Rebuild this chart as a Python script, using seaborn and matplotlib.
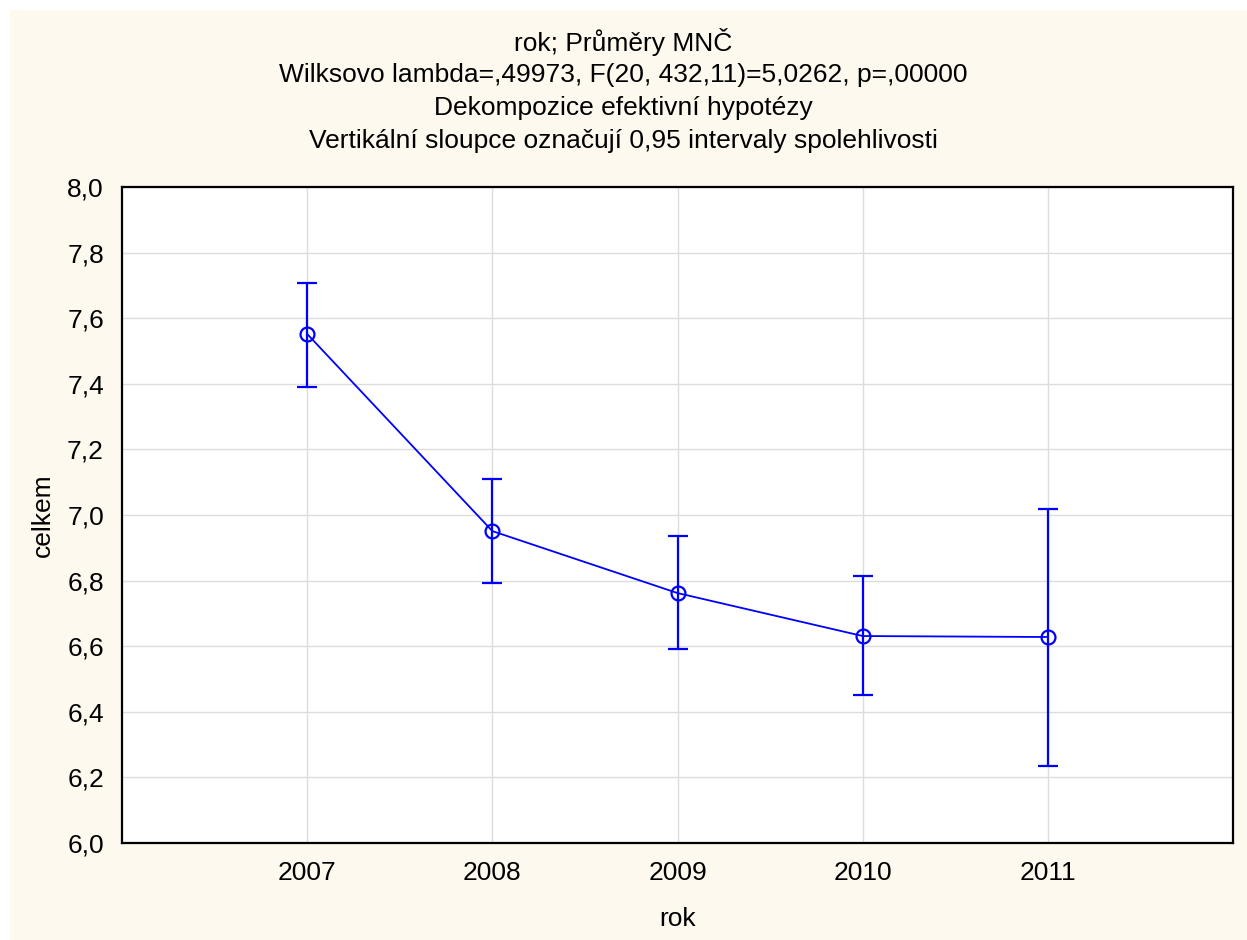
import numpy as np
import pandas as pd
import matplotlib
matplotlib.use('Agg')
import matplotlib.pyplot as plt
import seaborn as sns

# values
years = [2007, 2008, 2009, 2010, 2011]
means = [7.552, 6.951, 6.762, 6.631, 6.628]
ci_low = [7.390, 6.793, 6.591, 6.451, 6.235]
ci_high = [7.707, 7.110, 6.936, 6.814, 7.018]

title_lines = [
    'rok; Průměry MNČ',
    'Wilksovo lambda=,49973, F(20, 432,11)=5,0262, p=,00000',
    'Dekompozice efektivní hypotézy',
    'Vertikální sloupce označují 0,95 intervaly spolehlivosti',
]
yticks = [6.0, 6.2, 6.4, 6.6, 6.8, 7.0, 7.2, 7.4, 7.6, 7.8, 8.0]

df = pd.DataFrame({'rok': years, 'celkem': means, 'lo': ci_low, 'hi': ci_high})

sns.set_style('white')
plt.rcParams['font.family'] = ['Liberation Sans', 'DejaVu Sans']
plt.rcParams['text.color'] = 'black'
plt.rcParams['axes.labelcolor'] = 'black'

W, H = 1247, 940
fig = plt.figure(figsize=(W / 100, H / 100), dpi=100)
fig.patch.set_facecolor('white')
# cream panel behind everything (white strip at top/left edge)
fig.patches.append(plt.Rectangle((10 / W, 0), 1, 1 - 10 / H, transform=fig.transFigure,
                                 facecolor='#FDF9EE', edgecolor='none', zorder=-10))

ax = fig.add_axes([122 / W, 1 - 843 / H, (1233 - 122) / W, (843 - 187) / H])
ax.set_facecolor('white')

blue = '#0000FF'
ax.errorbar(df['rok'], df['celkem'],
            yerr=[df['celkem'] - df['lo'], df['hi'] - df['celkem']],
            fmt='none', ecolor=blue, elinewidth=1.6, capsize=7.5, capthick=1.6, zorder=3)
sns.lineplot(data=df, x='rok', y='celkem', ax=ax, color=blue, linewidth=1.3,
             marker='o', markersize=10, markerfacecolor='none', markeredgecolor=blue,
             markeredgewidth=1.6, zorder=4)

ax.set_xlim(2006, 2012)
ax.set_ylim(6.0, 8.0)
ax.set_xticks(years)
ax.set_xticklabels([str(y) for y in years])
ax.set_yticks(yticks)
ax.set_yticklabels([f'{v:.1f}'.replace('.', ',') for v in yticks])
ax.grid(True, color='#DCDCDC', linewidth=1.0)
ax.set_axisbelow(True)
ax.tick_params(direction='in', length=5, width=1.2, labelsize=19, colors='black', pad=13)
for s in ax.spines.values():
    s.set_visible(True)
    s.set_color('black')
    s.set_linewidth(1.6)

ax.set_xlabel('rok', fontsize=19, labelpad=16)
ax.set_ylabel('celkem', fontsize=19, labelpad=9)

ty = [42, 75, 108, 141]
for line, y in zip(title_lines, ty):
    fig.text(0.5, 1 - y / H, line, ha='center', va='center', fontsize=19, color='black')

fig.savefig('out.png', dpi=100, facecolor=fig.get_facecolor())
